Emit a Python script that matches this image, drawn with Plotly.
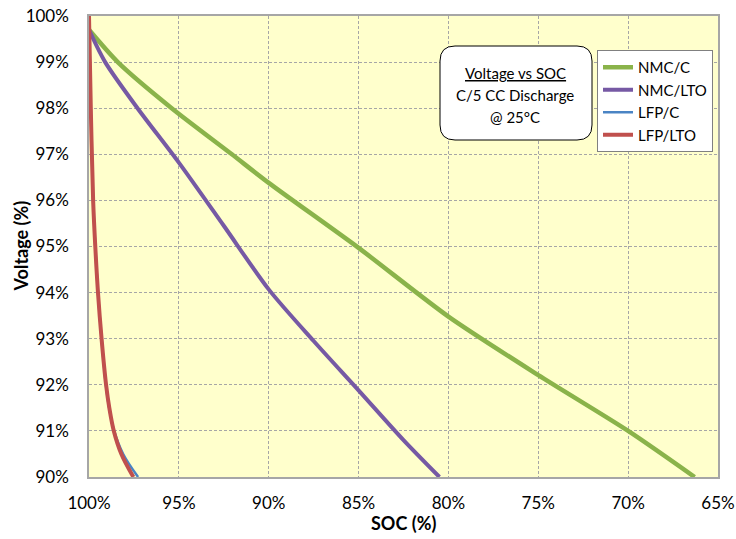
import plotly.graph_objects as go

# ---- data ----
green_soc = [100, 98.4, 95.4, 92.05, 90.0, 85.0, 80.0, 75.0, 70.0, 66.3]
green_v = [99.7, 99.0, 98.0, 97.0, 96.38, 94.97, 93.48, 92.21, 91.0, 90.0]

purple_soc = [100, 99.1, 97.3, 95.0, 92.5, 90.0, 87.5, 85.0, 82.5, 80.5]
purple_v = [99.7, 99.0, 98.0, 96.82, 95.45, 94.07, 92.95, 91.88, 90.8, 90.0]

red_soc = [100, 99.9, 99.77, 99.65, 99.5, 99.3, 99.05, 98.87, 98.62, 98.2, 97.53]
red_v = [100, 98, 96, 95, 94, 93, 92, 91.5, 91, 90.5, 90]

blue_soc = [100, 99.9, 99.77, 99.65, 99.5, 99.3, 99.06, 98.88, 98.6, 98.1, 97.27]
blue_v = [100, 98, 96, 95, 94, 93, 92, 91.5, 91, 90.5, 90]

x_ticks = [100, 95, 90, 85, 80, 75, 70, 65]
y_ticks = [90, 91, 92, 93, 94, 95, 96, 97, 98, 99, 100]

FONT = "Lato, 'Open Sans', sans-serif"

# plot area in pixels
L, R, T, B = 89, 718, 16, 477
W, H = 736, 539


def px(x):
    return (x - L) / (R - L)


def py(y):
    return (B - y) / (B - T)


fig = go.Figure()
fig.add_trace(go.Scatter(x=green_soc, y=green_v, mode="lines", name="NMC/C",
                         line=dict(color="#8AB34A", width=4.5, shape="spline", smoothing=0.7)))
fig.add_trace(go.Scatter(x=purple_soc, y=purple_v, mode="lines", name="NMC/LTO",
                         line=dict(color="#7659A4", width=4, shape="spline", smoothing=0.8)))
fig.add_trace(go.Scatter(x=blue_soc, y=blue_v, mode="lines", name="LFP/C",
                         line=dict(color="#4A84C4", width=2.5, shape="spline", smoothing=1.0)))
fig.add_trace(go.Scatter(x=red_soc, y=red_v, mode="lines", name="LFP/LTO",
                         line=dict(color="#C0504D", width=4, shape="spline", smoothing=1.0)))

grid = dict(showgrid=True, gridcolor="#A6A6A6", gridwidth=1, griddash="3px,2px",
            showline=True, linecolor="#A6A6A6", linewidth=1.5, mirror=True,
            zeroline=False, ticks="", tickfont=dict(family=FONT, size=17, color="#000000"))

fig.update_xaxes(range=[100, 65], tickvals=x_ticks, ticktext=[f"{v}%" for v in x_ticks],
                 ticklabelstandoff=10, **grid)
fig.update_yaxes(range=[90, 100], tickvals=y_ticks, ticktext=[f"{v}%" for v in y_ticks],
                 ticklabelstandoff=15, **grid)

# rounded text box
x0, x1, y0, y1, r = 440, 592, 46, 140, 15
path = (f"M {px(x0 + r)} {py(y0)} L {px(x1 - r)} {py(y0)} "
        f"Q {px(x1)} {py(y0)} {px(x1)} {py(y0 + r)} L {px(x1)} {py(y1 - r)} "
        f"Q {px(x1)} {py(y1)} {px(x1 - r)} {py(y1)} L {px(x0 + r)} {py(y1)} "
        f"Q {px(x0)} {py(y1)} {px(x0)} {py(y1 - r)} L {px(x0)} {py(y0 + r)} "
        f"Q {px(x0)} {py(y0)} {px(x0 + r)} {py(y0)} Z")
fig.add_shape(type="path", path=path, xref="paper", yref="paper",
              line=dict(color="#000000", width=1), fillcolor="#FFFFFF", layer="above")

box_lines = [("<u>Voltage vs SOC</u>", 73), ("C/5 CC Discharge", 95), ("@ 25°C", 117)]
annotations = []
for txt, yy in box_lines:
    annotations.append(dict(text=txt, x=px(515), y=py(yy), xref="paper", yref="paper",
                            showarrow=False, xanchor="center", yanchor="middle",
                            font=dict(family=FONT, size=15, color="#000000")))

annotations.append(dict(text="<b>SOC (%)</b>", x=0.5, y=py(523), xref="paper", yref="paper",
                        showarrow=False, xanchor="center", yanchor="middle",
                        font=dict(family=FONT, size=18, color="#000000")))
annotations.append(dict(text="<b>Voltage (%)</b>", x=px(20), y=0.5, xref="paper", yref="paper",
                        showarrow=False, xanchor="center", yanchor="middle", textangle=-90,
                        font=dict(family=FONT, size=18, color="#000000")))

fig.update_layout(
    width=W, height=H,
    margin=dict(l=L, r=W - R, t=T, b=H - B, autoexpand=False),
    paper_bgcolor="#FFFFFF", plot_bgcolor="#FFFFCC",
    font=dict(family=FONT, color="#000000"),
    showlegend=True,
    legend=dict(x=px(713), y=py(50), xanchor="right", yanchor="top",
                bgcolor="#FFFFFF", bordercolor="#808080", borderwidth=1,
                font=dict(family=FONT, size=15, color="#000000"),
                tracegroupgap=0, itemwidth=30),
    annotations=annotations,
)

fig.write_html("out.html")
